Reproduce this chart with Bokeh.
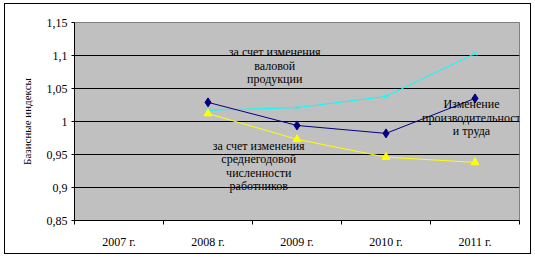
from bokeh.plotting import figure
from bokeh.models import Range1d, FixedTicker, Label
from bokeh.embed import file_html
from bokeh.resources import INLINE

years = ["2007 г.", "2008 г.", "2009 г.", "2010 г.", "2011 г."]
prod_years = ["2008 г.", "2009 г.", "2010 г.", "2011 г."]
labor_productivity = [1.029, 0.994, 0.982, 1.035]
gross_output = [1.017, 1.021, 1.038, 1.103]
avg_headcount = [1.012, 0.973, 0.946, 0.938]
y_ticks = [0.85, 0.9, 0.95, 1.0, 1.05, 1.1, 1.15]
y_tick_labels = ["0,85", "0,9", "0,95", "1", "1,05", "1,1", "1,15"]

FONT = "Times New Roman"

xs = [years.index(y) + 0.5 for y in prod_years]

p = figure(width=525, height=249, output_backend="svg", toolbar_location=None,
           x_range=Range1d(0, len(years)), y_range=Range1d(0.85, 1.15),
           min_border_left=69, min_border_right=11, min_border_top=18, min_border_bottom=33,
           margin=(4, 5, 4, 5))
p.styles = {"outline": "1px solid black"}
p.background_fill_color = "#C0C0C0"
p.border_fill_color = "white"
p.outline_line_color = "#808080"
p.outline_line_width = 1

# x axis
p.xaxis.ticker = FixedTicker(ticks=[i + 0.5 for i in range(len(years))],
                             minor_ticks=list(range(len(years) + 1)))
p.xaxis.major_label_overrides = {i + 0.5: y for i, y in enumerate(years)}
p.xaxis.major_tick_line_color = None
p.xaxis.minor_tick_line_color = "black"
p.xaxis.minor_tick_out = 4
p.xaxis.minor_tick_in = 0
p.xaxis.axis_line_color = "black"
p.xaxis.major_label_text_font = FONT
p.xaxis.major_label_text_font_size = "12px"
p.xaxis.major_label_text_color = "black"
p.xaxis.major_label_standoff = 8
p.xgrid.visible = False

# y axis
p.yaxis.ticker = FixedTicker(ticks=y_ticks)
p.yaxis.major_label_overrides = {t: l for t, l in zip(y_ticks, y_tick_labels)}
p.yaxis.major_tick_out = 3
p.yaxis.major_tick_in = 0
p.yaxis.minor_tick_line_color = None
p.yaxis.axis_line_color = "black"
p.yaxis.major_label_text_font = FONT
p.yaxis.major_label_text_font_size = "12px"
p.yaxis.major_label_text_color = "black"
p.yaxis.major_label_standoff = 4
p.yaxis.axis_label = "Базисные индексы"
p.yaxis.axis_label_text_font = FONT
p.yaxis.axis_label_text_font_size = "11px"
p.yaxis.axis_label_text_font_style = "normal"
p.yaxis.axis_label_text_color = "black"
p.yaxis.axis_label_standoff = 11
p.ygrid.grid_line_color = "black"
p.ygrid.grid_line_alpha = 1

# series
p.line(xs, gross_output, line_color="#00FFFF", line_width=1)
p.scatter(xs, gross_output, marker="x", size=6, line_color="#00FFFF", line_width=1)
p.line(xs, avg_headcount, line_color="#FFFF00", line_width=1)
p.scatter(xs, avg_headcount, marker="triangle", size=8, fill_color="#FFFF00", line_color="#FFFF00")
p.line(xs, labor_productivity, line_color="#000080", line_width=1)
p.scatter(xs, labor_productivity, marker="diamond", size=9, fill_color="#000080", line_color="#000080")

def add_text(lines, x, y0, step):
    for i, t in enumerate(lines):
        p.add_layout(Label(x=x, y=y0 - i * step, text=t, text_font=FONT, text_font_size="12px",
                           text_color="black", text_align="center", text_baseline="middle"))

add_text(["за счет изменения", "валовой", "продукции"], 2.25, 1.105, 0.0205)
add_text(["Изменение", "производительност", "и труда"], 4.46, 1.026, 0.0205)
add_text(["за счет изменения", "среднегодовой", "численности", "работников"], 2.07, 0.9635, 0.0205)

open("out.html", "w").write(file_html(p, INLINE))
